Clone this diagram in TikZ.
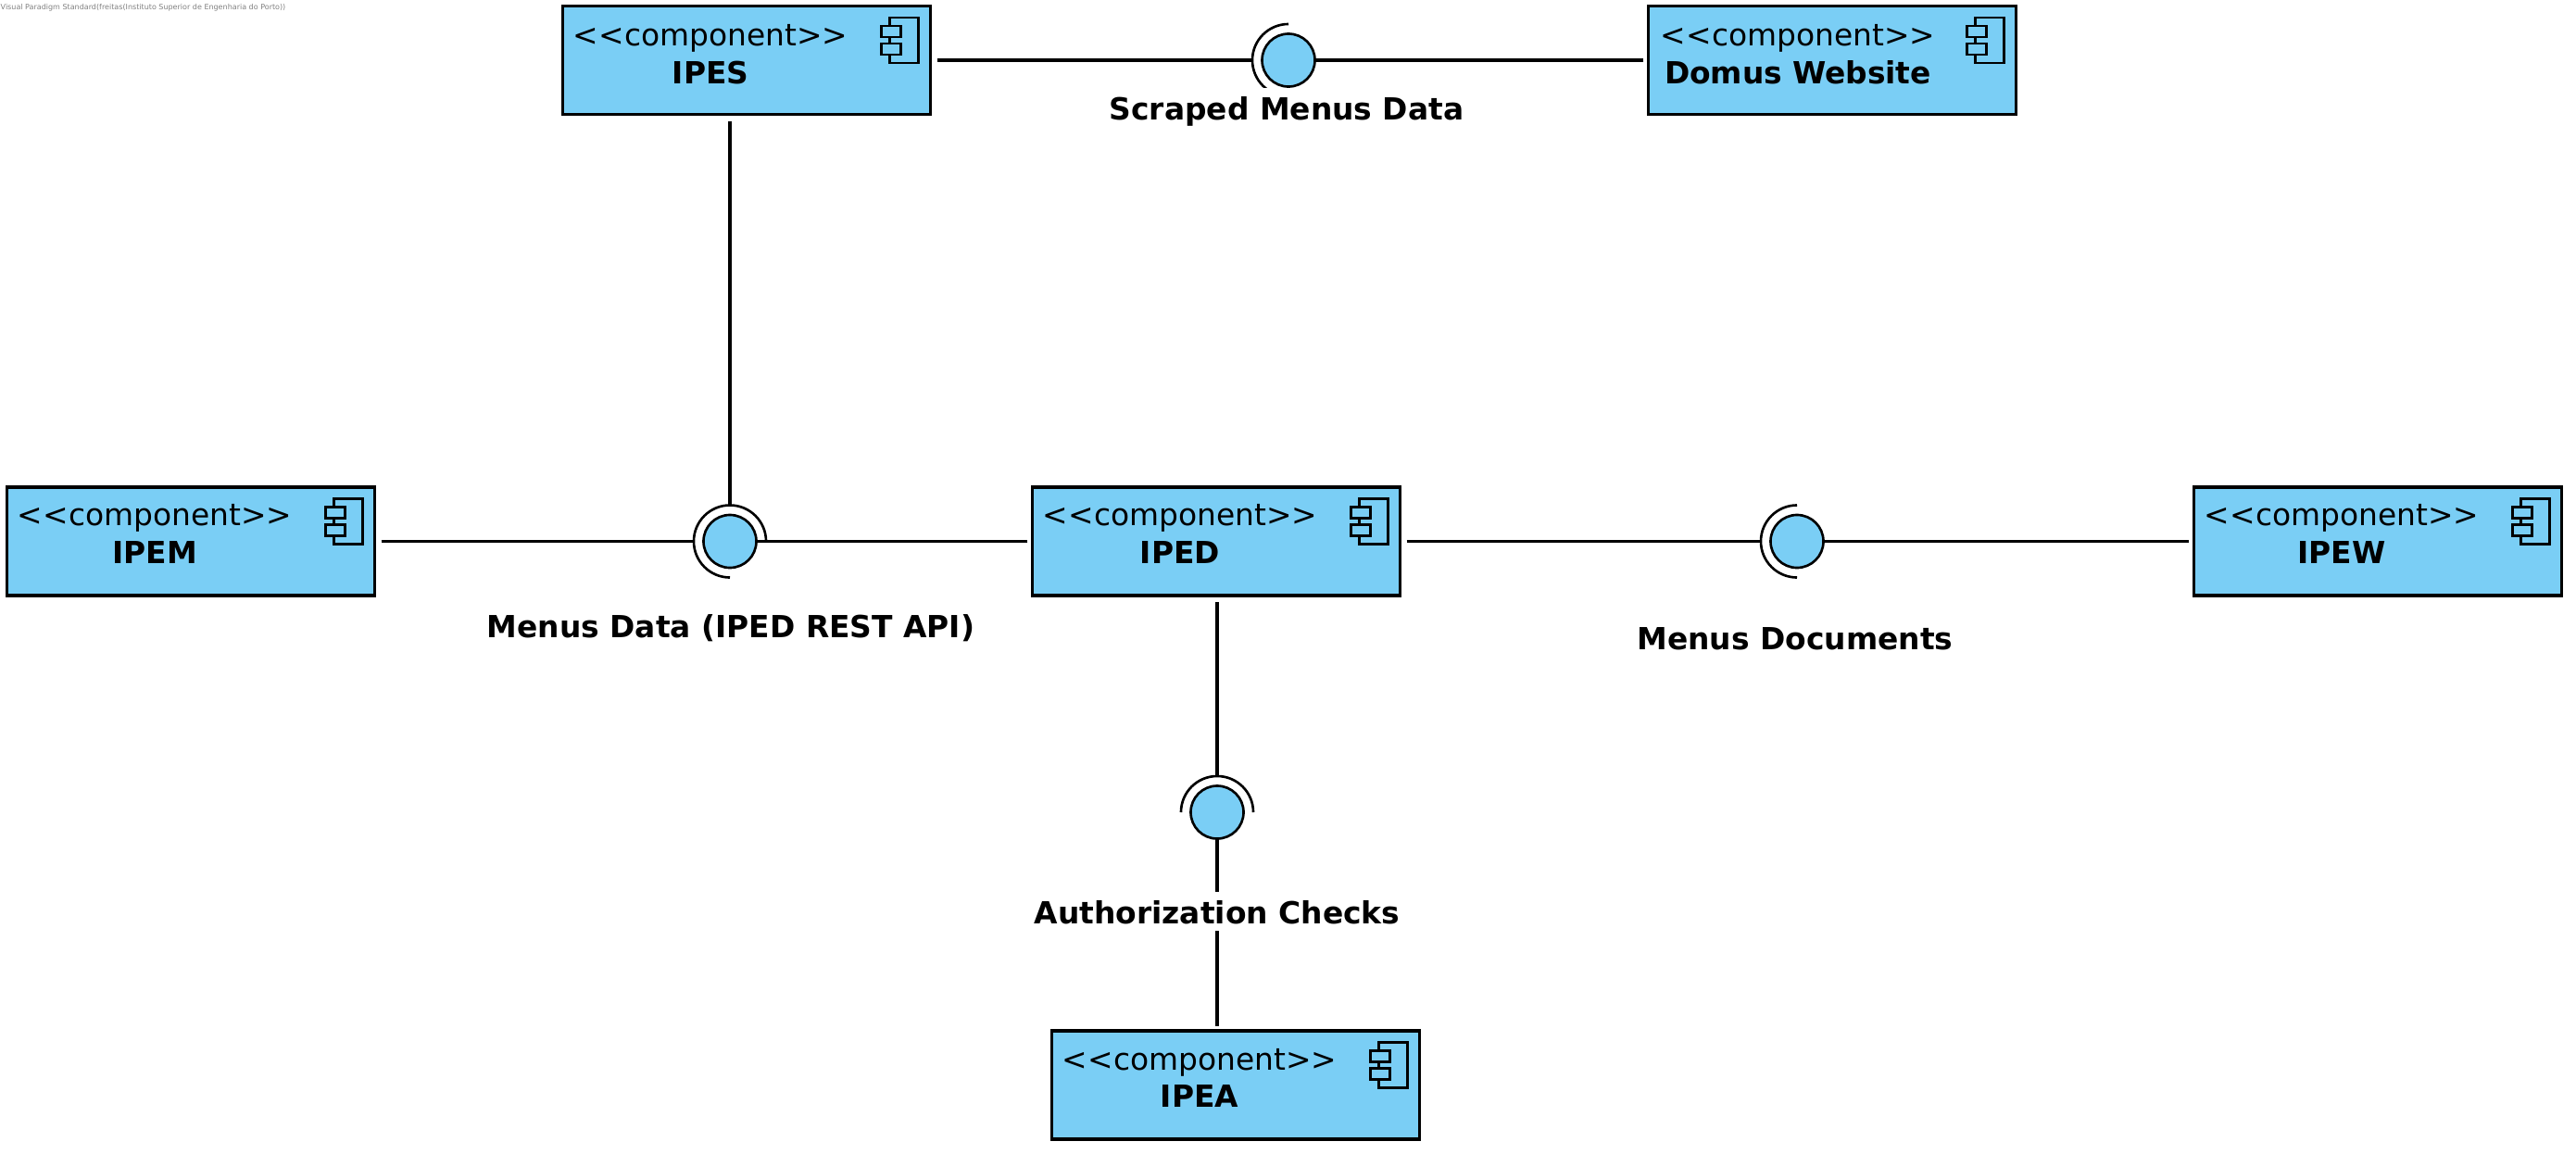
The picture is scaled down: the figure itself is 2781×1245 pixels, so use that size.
\documentclass[tikz,border=0pt]{standalone}
\usepackage{fontspec}
\setmainfont{DejaVu Sans}
\usepackage{tikz}
\definecolor{compblue}{HTML}{7ACEF5}
\newcommand{\stereo}{<{}<component>{}>}
\begin{document}
\begin{tikzpicture}[x=0.01cm,y=-0.01cm,
	comp/.style={rectangle,draw=black,fill=compblue,line width=.9pt,inner sep=0mm,minimum width=3.97cm,minimum height=1.17cm},
	comptext/.style={inner sep=0mm,text width=2.96cm,align=center,font=\fontsize{9.35}{11.6}\selectfont},
	ball/.style={circle,draw=black,fill=compblue,line width=.75pt,inner sep=0mm,minimum size=.57cm},
	conn/.style={line width=.95pt,shorten <=.055cm},
	socket/.style={line width=.75pt},
	tag/.style={fill=white,inner xsep=0mm,inner ysep=0mm,text height=.34cm,text depth=.08cm,font=\fontsize{9.35}{12}\selectfont\bfseries},
	compicon/.pic={
		\draw [line width=.75pt] (-46,14) rectangle (-15,63);
		\draw [line width=.75pt,fill=compblue] (-55,23) rectangle (-34,35);
		\draw [line width=.75pt,fill=compblue] (-55,42) rectangle (-34,54);
	}]
	\useasboundingbox (0,0) rectangle (2781,1245);
	\node (Mark) at (0,8) [anchor=west,inner sep=0mm,text=gray,font=\fontsize{2.28}{3}\selectfont] {Visual Paradigm Standard(freitas(Instituto Superior de Engenharia do Porto))};

	\node (IPES)  at (   806,    65) [comp] {};
	\node (Domus) at (  1978,    65) [comp] {};
	\node (IPEM)  at (   206, 584.5) [comp] {};
	\node (IPED)  at (  1313, 584.5) [comp] {};
	\node (IPEW)  at (  2567, 584.5) [comp] {};
	\node (IPEA)  at (  1334, 1171.5) [comp] {};

	\node (IPEStext)  at ( 767,    59) [comptext] {\stereo\\\textbf{IPES}};
	\node (Domustext) at (1941,    59) [comptext] {\stereo\\\textbf{Domus Website}};
	\node (IPEMtext)  at ( 167, 576.5) [comptext] {\stereo\\\textbf{IPEM}};
	\node (IPEDtext)  at (1274, 576.5) [comptext] {\stereo\\\textbf{IPED}};
	\node (IPEWtext)  at (2528, 576.5) [comptext] {\stereo\\\textbf{IPEW}};
	\node (IPEAtext)  at (1295,  1164) [comptext] {\stereo\\\textbf{IPEA}};

	\pic at (IPES.north east) {compicon};
	\pic at (Domus.north east) {compicon};
	\pic at (IPEM.north east) {compicon};
	\pic at (IPED.north east) {compicon};
	\pic at (IPEW.north east) {compicon};
	\pic at (IPEA.north east) {compicon};

	\node (Scraped)   at (1391,    65) [ball] {};
	\node (MenusData) at ( 788, 584.5) [ball] {};
	\node (MenusDocs) at (1940, 584.5) [ball] {};
	\node (AuthCheck) at (1314,   877) [ball] {};

	\draw [conn,shorten >=.1cm] (IPES) -- (Scraped);
	\draw [conn,shorten <=.035cm] (Domus) -- (Scraped);
	\draw [conn,shorten >=.38cm] (MenusData |- IPES.south) -- (MenusData.center);
	\draw [conn,shorten >=.1cm] (IPEM) -- (MenusData);
	\draw [conn,shorten <=.035cm] (IPED) -- (MenusData);
	\draw [conn,shorten >=.1cm] (IPED) -- (MenusDocs);
	\draw [conn,shorten <=.035cm] (IPEW) -- (MenusDocs);
	\draw [conn,shorten >=.1cm] (AuthCheck |- IPED.south) -- (AuthCheck);
	\draw [conn,shorten <=.035cm] (AuthCheck |- IPEA.north) -- (AuthCheck);

	\draw [socket] ([shift={(90:.39cm)}]Scraped.center) arc [start angle=90,end angle=270,radius=.39cm];
	\draw [socket] ([shift={(0:.39cm)}]MenusData.center) arc [start angle=0,end angle=270,radius=.39cm];
	\draw [socket] ([shift={(90:.39cm)}]MenusDocs.center) arc [start angle=90,end angle=270,radius=.39cm];
	\draw [socket] ([shift={(180:.39cm)}]AuthCheck.center) arc [start angle=180,end angle=0,radius=.39cm];

	\node (ScrapedTag) at (1389,   116) [tag] {Scraped Menus Data};
	\node (DataTag)    at ( 789,   675) [tag] {Menus Data (IPED REST API)};
	\node (DocsTag)    at (1938,   688) [tag] {Menus Documents};
	\node (AuthTag)    at (1314,   984) [tag] {Authorization Checks};
\end{tikzpicture}
\end{document}
